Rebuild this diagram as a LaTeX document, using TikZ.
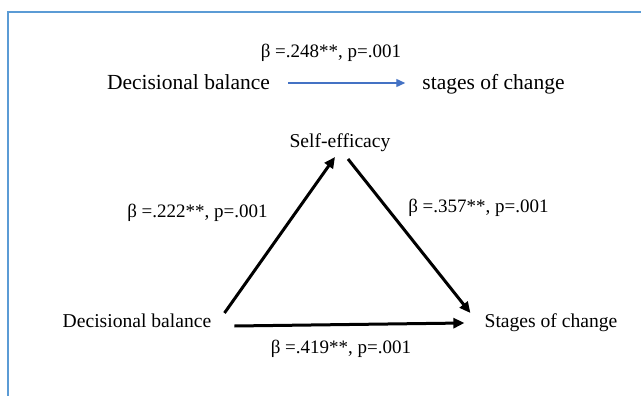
\documentclass[tikz,border=0pt]{standalone}
\usepackage{fontspec}
\setmainfont{Liberation Serif}
\usetikzlibrary{arrows.meta,calc}
\definecolor{framebl}{HTML}{5B9BD5}
\definecolor{arrbl}{HTML}{4472C4}

\begin{document}
\begin{tikzpicture}[x=1pt, y=-1pt,
  top/.style={inner sep=0pt, anchor=base, font=\fontsize{21.5}{26}\selectfont},
  var/.style={inner sep=0pt, anchor=base, font=\fontsize{19.6}{24}\selectfont},
  coef/.style={inner sep=0pt, anchor=base, font=\fontsize{19}{23}\selectfont},
  path1/.style={-{Triangle[length=11pt, width=10pt]}, line width=3pt, black},
  thin/.style={-{Triangle[length=9pt, width=8pt]}, line width=1.3pt, arrbl}]
\useasboundingbox (0,0) rectangle (641,396);
\draw[framebl, line width=2.2pt] (8,396) -- (8,12) -- (641,12);
% direct effect
\node[coef] (b0) at (331,58) {β =.248**, p=.001};
\node[top] (dbt) at (188.5,90) {Decisional balance};
\node[top] (soct) at (493.5,90) {stages of change};
\draw[thin] ([xshift=18pt, yshift=7pt]dbt.base east) -- ([xshift=-17pt, yshift=7pt]soct.base west);
% mediation triangle
\node[var] (se) at (340,148) {Self-efficacy};
\node[var] (dbb) at (137,327) {Decisional balance};
\node[var] (socb) at (551,327) {Stages of change};
\node[coef] (b1) at (197.5,217) {β =.222**, p=.001};
\node[coef] (b2) at (478.5,212) {β =.357**, p=.001};
\node[coef] (b3) at (341,353) {β =.419**, p=.001};
\draw[path1] ([xshift=13pt, yshift=14pt]dbb.base east) -- ([xshift=-5pt, yshift=-9pt]se.base);
\draw[path1] ([xshift=8pt, yshift=-11pt]se.base) -- ([xshift=-14pt, yshift=14pt]socb.base west);
\draw[path1] ([xshift=23pt, yshift=1pt]dbb.base east) -- ([xshift=-20pt, yshift=4pt]socb.base west);
\end{tikzpicture}
\end{document}
